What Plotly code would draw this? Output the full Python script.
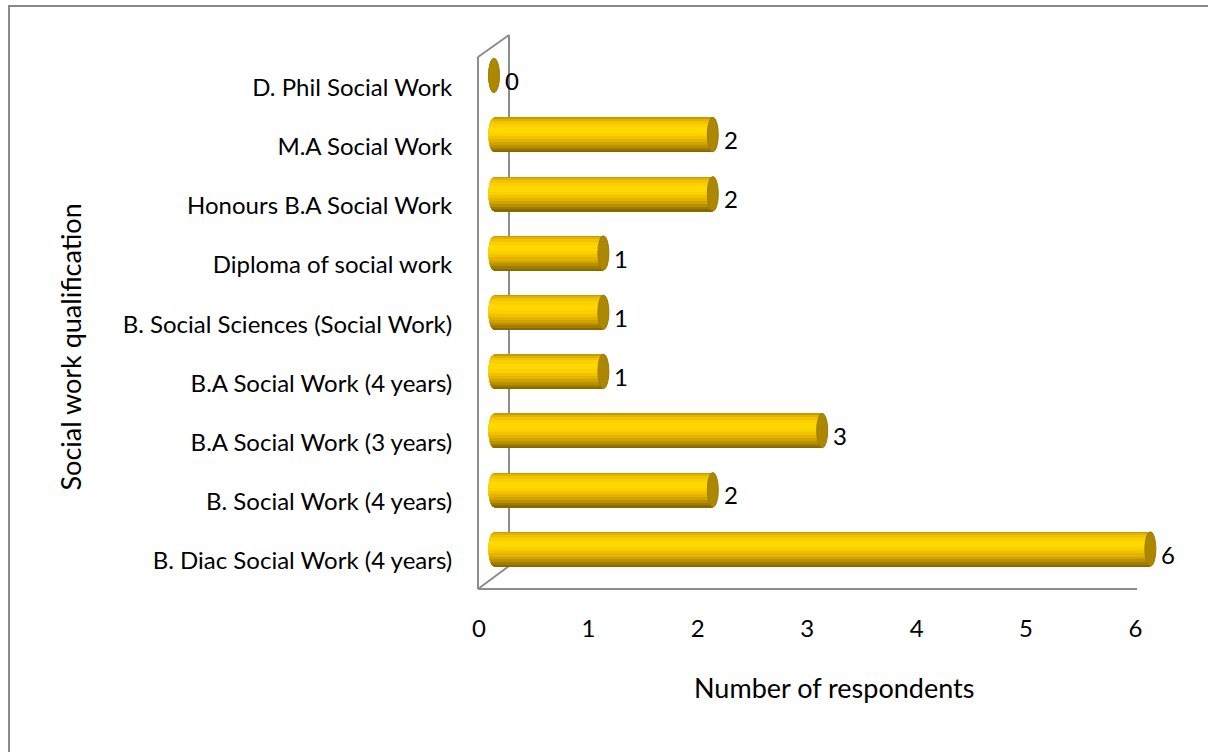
import math
import plotly.graph_objects as go

categories = [
    "B. Diac Social Work (4 years)",
    "B. Social Work (4 years)",
    "B.A Social Work (3 years)",
    "B.A Social Work (4 years)",
    "B. Social Sciences (Social Work)",
    "Diploma of social work",
    "Honours B.A Social Work",
    "M.A Social Work",
    "D. Phil Social Work",
]
values = [6, 2, 3, 1, 1, 1, 2, 2, 0]
x_ticks = [0, 1, 2, 3, 4, 5, 6]
x_title = "Number of respondents"
y_title = "Social work qualification"

W, H = 1208, 752
L, R, T, B = 479, 1190, 35, 589
FONT = "Lato, 'Open Sans', sans-serif"
FS = 24
FS_TITLE = 27

def px(xp):
    return (xp - L) / (R - L)

def py(yp):
    return (B - yp) / (B - T)

idx = list(range(len(categories)))
ppu_x = 109.4           # pixels per unit on value axes
ppu_y = 59.2            # pixels per category
bar_x0 = 494            # back-plane zero (bars)
bar_y0 = 549            # back-plane centre of first category (bars)
lab_y0 = 561            # front-plane centre of first category (labels)

bw = 34.5 / ppu_y
half = bw / 2
cap_a = 5.5 / ppu_x

# vertical shading profile of the cylinder (t = top of each band, 0=top, 1=bottom)
profile = [
    (0.00, "#C99B00"),
    (0.04, "#E2B200"),
    (0.10, "#F2C400"),
    (0.18, "#FBD000"),
    (0.28, "#FFD800"),
    (0.44, "#FAD000"),
    (0.54, "#F0C200"),
    (0.63, "#E2B400"),
    (0.72, "#D0A300"),
    (0.80, "#B99000"),
    (0.88, "#A07C00"),
    (0.95, "#8A6900"),
]

fig = go.Figure()
# each band runs from its top down to the bottom; later bands overpaint lower parts
for t0, col in profile:
    w = (1 - t0) * bw
    fig.add_trace(go.Bar(
        x=values, y=idx, orientation="h",
        width=[w] * len(idx), offset=[-half] * len(idx),
        marker=dict(color=col, line=dict(width=0)),
        xaxis="x", yaxis="y", showlegend=False, hoverinfo="skip",
    ))

# invisible trace to anchor the front-plane tick axes
fig.add_trace(go.Scatter(x=[0], y=[0], xaxis="x2", yaxis="y2", mode="markers",
                         marker=dict(opacity=0), showlegend=False, hoverinfo="skip"))

shapes = []
annotations = []

# rounded left ends of the cylinders (half ellipses, shaded in bands)
def ell_x(yrel):
    r = max(0.0, 1 - (yrel / half) ** 2)
    return -cap_a * math.sqrt(r)

for i in idx:
    for t0, col in profile:
        ya = half - t0 * bw
        yb = -half
        n = 14
        pts = []
        for k in range(n + 1):
            yy = ya + (yb - ya) * k / n
            pts.append((ell_x(yy), i + yy))
        d = "M 0,{} ".format(i + ya)
        d += " ".join("L {:.5f},{:.5f}".format(a, b) for a, b in pts)
        d += " L 0,{} Z".format(i + yb)
        shapes.append(dict(type="path", path=d, xref="x", yref="y",
                           fillcolor=col, line=dict(width=0), layer="below"))

# end caps and value labels
for i, v in zip(idx, values):
    shapes.append(dict(
        type="circle", xref="x", yref="y",
        x0=v - cap_a, x1=v + cap_a, y0=i - half, y1=i + half,
        fillcolor="#AC8700", line=dict(color="#9E7C00", width=1), layer="above",
    ))
    annotations.append(dict(
        x=v, y=i, xref="x", yref="y", text=str(v), showarrow=False,
        xanchor="left", yanchor="middle", xshift=9, yshift=-5,
        font=dict(family=FONT, size=FS, color="#000000"),
    ))

# 3D wall frame
gray = "#8C8C8C"
frame = [
    ((478, 57), (478, 589)),
    ((478, 57), (509, 35)),
    ((509, 35), (509, 566)),
    ((478, 589), (509, 566)),
    ((478, 589), (1137, 589)),
]
for (x0, y0), (x1, y1) in frame:
    shapes.append(dict(type="line", xref="paper", yref="paper",
                       x0=px(x0), y0=py(y0), x1=px(x1), y1=py(y1),
                       line=dict(color=gray, width=2), layer="below"))

# outer chart border (top and left)
shapes.append(dict(type="line", xref="paper", yref="paper",
                   x0=px(8), y0=py(6), x1=px(1212), y1=py(6),
                   line=dict(color="#888888", width=2)))
shapes.append(dict(type="line", xref="paper", yref="paper",
                   x0=px(9), y0=py(6), x1=px(9), y1=py(760),
                   line=dict(color="#888888", width=2)))

# axis titles
annotations.append(dict(x=px(834), y=py(706), xref="paper", yref="paper",
                        text=x_title, showarrow=False,
                        font=dict(family=FONT, size=FS_TITLE, color="#000000")))
annotations.append(dict(x=px(51), y=py(347), xref="paper", yref="paper",
                        text=y_title, showarrow=False, textangle=-90,
                        font=dict(family=FONT, size=FS_TITLE, color="#000000")))

fig.update_layout(
    width=W, height=H,
    margin=dict(l=L, r=W - R, t=T, b=H - B, pad=0),
    paper_bgcolor="white", plot_bgcolor="white",
    barmode="overlay", bargap=0,
    font=dict(family=FONT, size=FS, color="#000000"),
    # back plane (bars)
    xaxis=dict(range=[(L - bar_x0) / ppu_x, (R - bar_x0) / ppu_x],
               visible=False, fixedrange=True),
    yaxis=dict(range=[-(B - bar_y0) / ppu_y, (bar_y0 - T) / ppu_y],
               visible=False, fixedrange=True),
    # front plane (tick labels)
    xaxis2=dict(
        overlaying="x", anchor="y2", side="bottom",
        range=[0, (R - L) / ppu_x], tickvals=x_ticks,
        showgrid=False, zeroline=False, showline=False,
        ticks="outside", ticklen=18, tickcolor="rgba(0,0,0,0)",
        tickfont=dict(family=FONT, size=FS, color="#000000"),
        fixedrange=True,
    ),
    yaxis2=dict(
        overlaying="y", anchor="x2", side="left",
        range=[-(B - lab_y0) / ppu_y, (lab_y0 - T) / ppu_y],
        tickvals=idx, ticktext=categories,
        showgrid=False, zeroline=False, showline=False,
        ticks="outside", ticklen=21, tickcolor="rgba(0,0,0,0)",
        tickfont=dict(family=FONT, size=FS, color="#000000"),
        fixedrange=True,
    ),
    shapes=shapes, annotations=annotations,
    showlegend=False,
)

fig.write_html("out.html")
